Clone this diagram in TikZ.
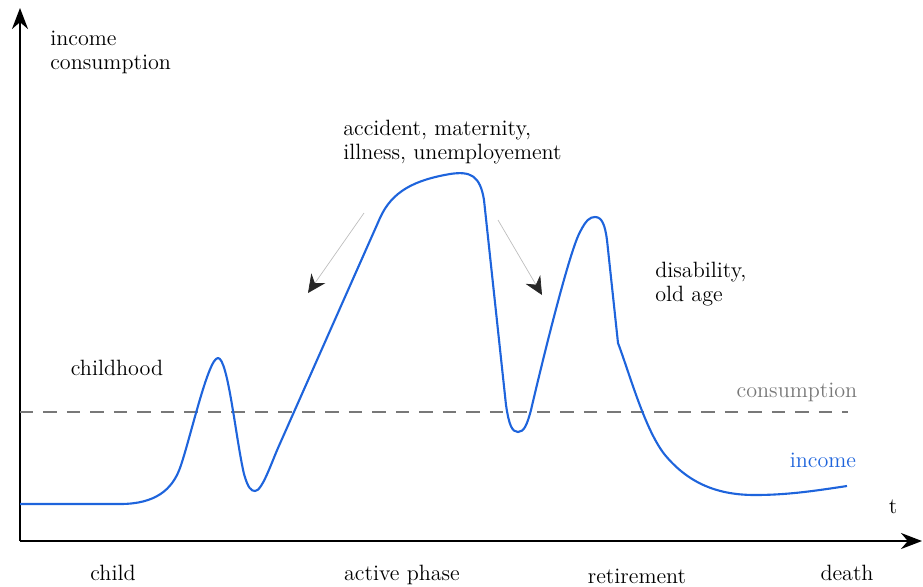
\documentclass[tikz,border=0pt]{standalone}
\usepackage{xcolor}
\usepackage{tikz}
\usetikzlibrary{positioning, arrows.meta}

\definecolor{incomeblue}{RGB}{30,100,220}
\definecolor{consgray}{RGB}{120,120,120}
\definecolor{hintgray}{RGB}{190,190,190}

\tikzset{
  axis/.style={line width=1.3pt, -{Stealth[length=0.42cm, width=0.32cm]}},
  income line/.style={incomeblue, line width=1.2pt, line join=round},
  cons line/.style={consgray, line width=0.8pt, dash pattern=on 0.27cm off 0.2cm},
  shock/.style={hintgray, line width=0.4pt, -{Stealth[length=0.36cm, width=0.34cm, inset=0.12cm, black!85]}},
  lbl/.style={inner sep=0pt, font=\fontsize{12.6}{13.6}\selectfont}
}

\begin{document}
\begin{tikzpicture}[x=0.02cm, y=-0.02cm]
                \useasboundingbox (0,0) rectangle (923,586);
                % axes
                \coordinate (origin) at (20,541);
                \coordinate (ytip) at (20,8);
                \coordinate (xtip) at (922,541);
                \draw [axis] (origin) -- (ytip);
                \draw [axis] (origin) -- (xtip);
                % consumption level
                \coordinate (cstart) at (20,412);
                \coordinate (cend) at (848,412);
                \draw [cons line] (cstart) -- (cend);
                % income over the life cycle
                \draw [income line] (20,504) -- (120,504)
                    .. controls (155,504) and (172,490) .. (180,468)
                    .. controls (190,440) and (208,358) .. (218,358)
                    .. controls (228,358) and (236,440) .. (244,474)
                    .. controls (248,488) and (251,491) .. (255,491)
                    .. controls (262,491) and (271,464) .. (278,448)
                    -- (380,218)
                    .. controls (392,191) and (415,180) .. (450,174)
                    .. controls (470,171) and (480,175) .. (484,200)
                    -- (506,405)
                    .. controls (509,425) and (512,432) .. (518,432)
                    .. controls (524,432) and (527,425) .. (531,410)
                    .. controls (545,350) and (570,250) .. (580,232)
                    .. controls (586,220) and (590,217) .. (595,217)
                    .. controls (602,217) and (605,225) .. (607,240)
                    -- (618,343)
                    .. controls (630,375) and (645,430) .. (665,455)
                    .. controls (690,485) and (720,495) .. (755,495)
                    .. controls (790,495) and (820,490) .. (847,486);
                % labels
                \node [lbl, anchor=west, align=left] (yaxis) at (50,52) {income\\consumption};
                \node [lbl] (t) at (893,507) {t};
                \node [lbl] (childhood) at (117,368) {childhood};
                \node [lbl, anchor=west, align=left] (risks) at (343,142) {accident, maternity,\\illness, unemployement};
                \node [lbl, anchor=west, align=left] (oldage) at (655,284) {disability,\\old age};
                \node [lbl, text=consgray] (cons) at (797,392) {consumption};
                \node [lbl, text=incomeblue] (inc) at (823,460) {income};
                \node [lbl] (child) at (113,573) {child};
                \node [lbl] (active) at (402,575) {active phase};
                \node [lbl] (retire) at (637,576) {retirement};
                \node [lbl] (death) at (847,573) {death};
                % shocks
                \coordinate (s1) at (364,213);
                \coordinate (e1) at (308,293);
                \coordinate (s2) at (498,220);
                \coordinate (e2) at (542,295);
                \draw [shock] (s1) -- (e1);
                \draw [shock] (s2) -- (e2);
            \end{tikzpicture}
\end{document}
